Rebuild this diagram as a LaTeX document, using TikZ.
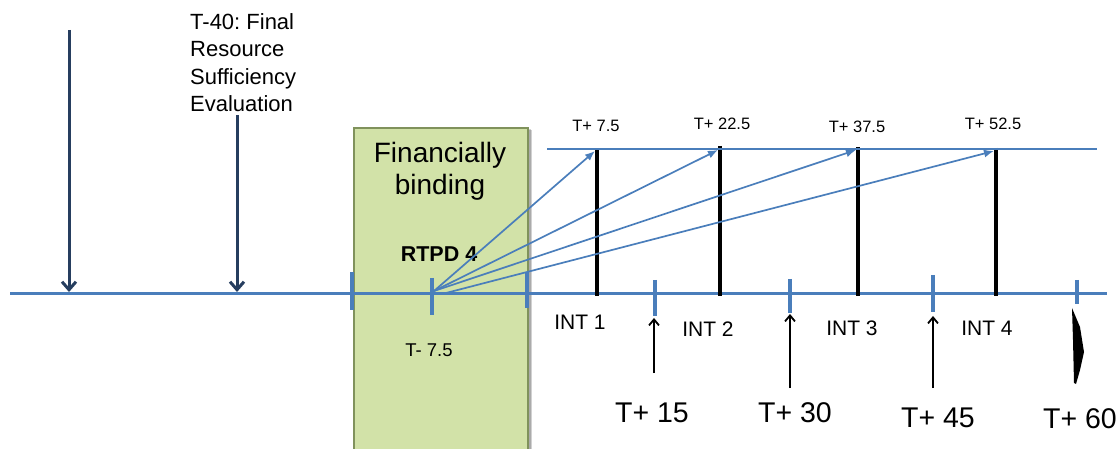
\documentclass[tikz,border=0pt]{standalone}
\usepackage{fontspec}
\setmainfont{Liberation Sans}
\usetikzlibrary{arrows.meta}
\definecolor{axisblue}{RGB}{74,126,187}
\definecolor{navy}{RGB}{38,62,95}
\definecolor{bindfill}{RGB}{210,226,168}
\definecolor{bindedge}{RGB}{128,146,92}
\newcommand{\txtsize}[2]{\fontsize{#1}{#2}\selectfont}
\frenchspacing
\tikzset{
  axisline/.style={axisblue, line width=3.5pt},
  tickmark/.style={axisblue, line width=3.3pt},
  pointer/.style={navy, line width=3pt, -{Straight Barb[length=8pt,width=14pt]}},
  uparrow/.style={black, line width=1.8pt, -{Straight Barb[length=6pt,width=10pt]}},
  fan/.style={axisblue, line width=1.7pt, -{Latex[length=10pt,width=8pt]}},
  beam/.style={black, line width=3.6pt},
  horizon/.style={axisblue, line width=1.1pt},
  small/.style={inner sep=0, anchor=base, font=\txtsize{16.5}{20}},
  intlbl/.style={inner sep=0, anchor=base, font=\txtsize{21}{25}},
  biglbl/.style={inner sep=0, anchor=base, font=\txtsize{28.5}{34}},
}
\begin{document}
\begin{tikzpicture}[x=1pt,y=-1pt]
\useasboundingbox (0,0) rectangle (1120,449);

% soft shadow behind the binding window
\fill[black, opacity=0.18] (356,130) rectangle (532,470);
\fill[black, opacity=0.18] (355,129) rectangle (530.5,470);

% financially binding window
\node[draw=bindedge, line width=1.6pt, fill=bindfill,
      minimum width=174pt, minimum height=340pt, inner sep=0,
      anchor=north west] (window) at (353,127) {};
\node[inner sep=0, anchor=base, font=\txtsize{28}{32}] (fin) at (440,163) {Financially};
\node[inner sep=0, anchor=base, font=\txtsize{28}{32}] (bind) at (440,195) {binding};
\node[inner sep=0, anchor=base, font=\bfseries\txtsize{21.5}{25}] (rtpd) at (439,262) {RTPD 4};
\node[inner sep=0, anchor=base, font=\txtsize{18.5}{22}] (tm) at (429,356) {T- 7.5};

% main time axis
\coordinate (a0) at (10,293.5);
\coordinate (a1) at (1107,293.5);
\draw[axisline] (a0) -- (a1);

% tick marks on the axis
\foreach \x/\t/\b in {352/272/310, 432/278/315, 527/272/308, 655/280/316,
                      790/279/313, 933/275/312, 1077/280/304}
  \draw[tickmark] (\x,\t) -- (\x,\b);

% early evaluation arrows
\coordinate (d1s) at (69,30);
\coordinate (d1e) at (69,292);
\coordinate (d2s) at (237,115);
\coordinate (d2e) at (237,292);
\draw[pointer] (d1s) -- (d1e);
\draw[pointer] (d2s) -- (d2e);
\node[inner sep=0, anchor=north west, align=left, font=\txtsize{22}{27.3}] (eval)
  at (190,13.5) {T-40: Final\\Resource\\Sufficiency\\Evaluation};

% interval beams
\coordinate (b1t) at (597,149); \coordinate (b1b) at (597,296);
\coordinate (b2t) at (720,146); \coordinate (b2b) at (720,296);
\coordinate (b3t) at (858,147); \coordinate (b3b) at (858,296);
\coordinate (b4t) at (996,148); \coordinate (b4b) at (996,296);
\draw[beam] (b1t) -- (b1b);
\draw[beam] (b2t) -- (b2b);
\draw[beam] (b3t) -- (b3b);
\draw[beam] (b4t) -- (b4b);

% horizon line
\coordinate (h0) at (547,149);
\coordinate (h1) at (1097,149);
\draw[horizon] (h0) -- (h1);

% fan of arrows from RTPD 4
\coordinate (src) at (434,291);
\coordinate (src4) at (446,293);
\coordinate (f1) at (595,151);
\coordinate (f2) at (718,150);
\coordinate (f3) at (856,150);
\coordinate (f4) at (994,151);
\draw[fan] (src) -- (f1);
\draw[fan] (src) -- (f2);
\draw[fan] (src) -- (f3);
\draw[fan] (src4) -- (f4);

% beam labels
\node[small] (l1) at (596,132) {T+ 7.5};
\node[small] (l2) at (722,130) {T+ 22.5};
\node[small] (l3) at (857,133) {T+ 37.5};
\node[small] (l4) at (993,130) {T+ 52.5};

% interval labels
\node[intlbl] (i1) at (580,330) {INT 1};
\node[intlbl] (i2) at (708,336) {INT 2};
\node[intlbl] (i3) at (852,335) {INT 3};
\node[intlbl] (i4) at (987,335) {INT 4};

% boundary arrows
\coordinate (u1s) at (654,373); \coordinate (u1e) at (654,318);
\coordinate (u2s) at (790,388); \coordinate (u2e) at (790,314);
\coordinate (u3s) at (933,388); \coordinate (u3e) at (933,316);
\draw[uparrow] (u1s) -- (u1e);
\draw[uparrow] (u2s) -- (u2e);
\draw[uparrow] (u3s) -- (u3e);

% last boundary marker
\fill[black] (1072,308) -- (1080,327) -- (1084,352) -- (1080,370)
  -- (1076,384) -- (1074,383) -- (1073,340) -- cycle;

% boundary labels
\node[biglbl] (t15) at (652,422) {T+ 15};
\node[biglbl] (t30) at (795,422) {T+ 30};
\node[biglbl] (t45) at (938,427) {T+ 45};
\node[biglbl] (t60) at (1080,428) {T+ 60};
\end{tikzpicture}
\end{document}
